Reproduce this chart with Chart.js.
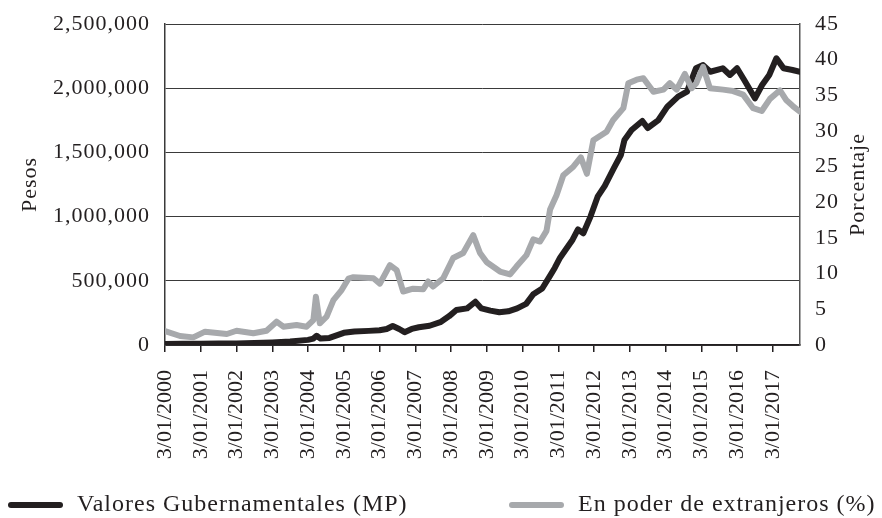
<!DOCTYPE html>
<html>
<head>
<meta charset="utf-8">
<script src="https://cdn.jsdelivr.net/npm/chart.js@4.4.1/dist/chart.umd.min.js"></script>
<style>
  html, body { margin: 0; padding: 0; background: #fff; }
  #wrap { width: 882px; height: 518px; }
</style>
</head>
<body>
<div id="wrap"><canvas id="chart" width="882" height="518"></canvas></div>
<script>
// fractional years
const govYears = [
  2000.0, 2000.5, 2001.0, 2001.5, 2002.0, 2002.5, 2003.0, 2003.5, 2004.0, 2004.15,
  2004.24, 2004.35, 2004.6, 2004.8, 2005.0, 2005.3, 2005.7, 2006.0, 2006.2, 2006.37,
  2006.55, 2006.7, 2006.9, 2007.1, 2007.4, 2007.7, 2007.95, 2008.15, 2008.45, 2008.68,
  2008.85, 2009.1, 2009.35, 2009.6, 2009.85, 2010.1, 2010.3, 2010.55, 2010.75, 2010.9,
  2011.05, 2011.2, 2011.4, 2011.55, 2011.7, 2011.9, 2012.1, 2012.3, 2012.55, 2012.75,
  2012.85, 2013.05, 2013.35, 2013.5, 2013.8, 2014.05, 2014.35, 2014.6, 2014.85, 2015.05,
  2015.25, 2015.6, 2015.8, 2016.0, 2016.2, 2016.5, 2016.7, 2016.9, 2017.1, 2017.3,
  2017.55, 2017.76
];
// Valores Gubernamentales (MP), pesos
const govValues = [
  8000, 10000, 10000, 12000, 12000, 15000, 20000, 28000, 40000, 50000,
  72000, 50000, 55000, 75000, 95000, 105000, 110000, 115000, 125000, 148000,
  125000, 100000, 125000, 138000, 150000, 178000, 225000, 272000, 285000, 337000,
  285000, 268000, 255000, 262000, 285000, 320000, 395000, 440000, 530000, 600000,
  680000, 740000, 820000, 900000, 870000, 1000000, 1155000, 1240000, 1376000, 1480000,
  1597000, 1674000, 1745000, 1690000, 1752000, 1856000, 1934000, 1973000, 2155000, 2180000,
  2128000, 2155000, 2103000, 2155000, 2064000, 1921000, 2025000, 2103000, 2233000, 2155000,
  2142000, 2128000
];

const forYears = [
  2000.0, 2000.42, 2000.79, 2001.12, 2001.73, 2002.0, 2002.47, 2002.84, 2003.12, 2003.31,
  2003.68, 2003.96, 2004.15, 2004.22, 2004.33, 2004.52, 2004.71, 2004.94, 2005.13, 2005.27,
  2005.83, 2006.01, 2006.29, 2006.48, 2006.66, 2006.94, 2007.22, 2007.36, 2007.5, 2007.78,
  2008.06, 2008.34, 2008.62, 2008.81, 2009.0, 2009.37, 2009.65, 2009.83, 2010.11, 2010.3,
  2010.49, 2010.67, 2010.77, 2010.95, 2011.14, 2011.42, 2011.63, 2011.8, 2011.98, 2012.35,
  2012.53, 2012.82, 2012.96, 2013.19, 2013.38, 2013.66, 2013.94, 2014.12, 2014.31, 2014.54,
  2014.73, 2014.86, 2015.05, 2015.24, 2015.61, 2015.89, 2016.17, 2016.45, 2016.69, 2016.92,
  2017.2, 2017.38, 2017.56, 2017.76
];
// En poder de extranjeros (%)
const forValues = [
  1.96, 1.26, 1.07, 1.87, 1.54, 2.0, 1.64, 2.0, 3.27, 2.57,
  2.8, 2.57, 3.5, 6.77, 3.04, 3.97, 6.3, 7.7, 9.3, 9.5,
  9.35, 8.6, 11.2, 10.5, 7.5, 7.9, 7.8, 8.9, 8.2, 9.35,
  12.2, 12.9, 15.4, 12.9, 11.6, 10.3, 9.9, 11.0, 12.6, 14.8,
  14.5, 16.0, 19.0, 21.0, 23.8, 25.0, 26.3, 24.0, 28.7, 29.9,
  31.5, 33.2, 36.7, 37.2, 37.4, 35.5, 35.8, 36.7, 35.8, 38.0,
  36.0, 36.7, 39.0, 36.0, 35.8, 35.6, 35.1, 33.2, 32.8, 34.5,
  35.7, 34.3, 33.5, 32.7
];

const tickYears = [2000, 2001, 2002, 2003, 2004, 2005, 2006, 2007, 2008,
  2009, 2010, 2011, 2012, 2013, 2014, 2015, 2016, 2017];
const xMin = 2000, xMax = 2017.76;

const FONT = "'Liberation Serif', 'Times New Roman', serif";
const INK = '#231f20';
const GRAY = '#a7a9ac';

function pairs(xs, ys) { return xs.map((x, i) => ({ x: x, y: ys[i] })); }

// the reference face is a bit wider than Times, so spread the letters a little
const spacing = {
  id: 'spacing',
  beforeDraw(chart) { chart.ctx.letterSpacing = '1px'; },
  afterDraw(chart) { chart.ctx.letterSpacing = '0px'; }
};

const sideTitles = {
  id: 'sideTitles',
  afterDraw(chart) {
    const ctx = chart.ctx, a = chart.chartArea;
    const mid = (a.top + a.bottom) / 2;
    ctx.save();
    ctx.letterSpacing = '1px';
    ctx.fillStyle = INK;
    ctx.font = '22px ' + FONT;
    ctx.textAlign = 'center';
    ctx.textBaseline = 'middle';
    [['Pesos', 30], ['Porcentaje', 858]].forEach(([t, x]) => {
      ctx.save();
      ctx.translate(x, mid);
      ctx.rotate(-Math.PI / 2);
      ctx.fillText(t, 0, 0);
      ctx.restore();
    });
    ctx.restore();
  }
};

const lineLegend = {
  id: 'lineLegend',
  afterDraw(chart) {
    const ctx = chart.ctx;
    const starts = [8, 509];
    const y = 505;
    ctx.save();
    ctx.letterSpacing = '1px';
    ctx.font = '24px ' + FONT;
    ctx.textBaseline = 'middle';
    chart.data.datasets.forEach((ds, i) => {
      const x0 = starts[i];
      ctx.strokeStyle = ds.borderColor;
      ctx.lineWidth = 6;
      ctx.lineCap = 'round';
      ctx.beginPath();
      ctx.moveTo(x0 + 3, y);
      ctx.lineTo(x0 + 52, y);
      ctx.stroke();
      ctx.fillStyle = INK;
      ctx.fillText(ds.label, x0 + 69, y);
    });
    ctx.restore();
  }
};

// pin the vertical axes: fixed width, no extra label overhang at the top
function fixedWidth(w) {
  return scale => {
    scale.width = w;
    scale.paddingTop = 0;
    scale.paddingBottom = 0;
  };
}

new Chart(document.getElementById('chart'), {
  type: 'line',
  data: {
    datasets: [
      {
        label: 'Valores Gubernamentales (MP)',
        data: pairs(govYears, govValues),
        yAxisID: 'y',
        borderColor: INK,
        borderWidth: 6,
        pointRadius: 0,
        tension: 0,
        borderJoinStyle: 'round',
        borderCapStyle: 'round',
        order: 1
      },
      {
        label: 'En poder de extranjeros (%)',
        data: pairs(forYears, forValues),
        yAxisID: 'y1',
        borderColor: GRAY,
        borderWidth: 6,
        pointRadius: 0,
        tension: 0,
        borderJoinStyle: 'round',
        borderCapStyle: 'round',
        order: 0
      }
    ]
  },
  options: {
    responsive: false,
    animation: false,
    events: [],
    layout: { padding: { top: 24, left: 0, right: 0, bottom: 0 } },
    plugins: {
      legend: { display: false },
      tooltip: { enabled: false }
    },
    scales: {
      x: {
        type: 'linear',
        min: xMin,
        max: xMax,
        afterBuildTicks(scale) {
          scale.ticks = tickYears.map(v => ({ value: v }));
        },
        afterFit(scale) {
          scale.height = 173;
          scale.paddingLeft = 0;
          scale.paddingRight = 0;
          // date labels already match the reference width: no extra spacing
          if (!scale._plainLabels) {
            const orig = scale.drawLabels;
            scale.drawLabels = function (area) {
              const c = this.ctx, keep = c.letterSpacing;
              c.letterSpacing = '0px';
              orig.call(this, area);
              c.letterSpacing = keep;
            };
            scale._plainLabels = true;
          }
        },
        grid: {
          drawOnChartArea: false,
          drawTicks: true,
          tickLength: 7,
          color: INK,
          lineWidth: 1.5
        },
        border: { display: true, color: INK, width: 1.5 },
        ticks: {
          autoSkip: false,
          minRotation: 90,
          maxRotation: 90,
          padding: 18,
          color: INK,
          font: { family: FONT, size: 22 },
          callback: v => '3/01/' + v
        }
      },
      y: {
        position: 'left',
        min: 0,
        max: 2500000,
        afterFit: fixedWidth(165),
        grid: { color: '#3a3a3a', lineWidth: 1, drawTicks: false },
        border: { display: true, color: '#3a3a3a', width: 1.5 },
        ticks: {
          stepSize: 500000,
          padding: 15,
          color: INK,
          font: { family: FONT, size: 22 },
          callback: v => v.toLocaleString('en-US')
        }
      },
      y1: {
        position: 'right',
        min: 0,
        max: 45,
        afterFit: fixedWidth(82),
        grid: { drawOnChartArea: false, drawTicks: false },
        border: { display: true, color: '#555', width: 1.5 },
        ticks: {
          stepSize: 5,
          padding: 15,
          color: INK,
          font: { family: FONT, size: 22 }
        }
      }
    }
  },
  plugins: [spacing, sideTitles, lineLegend]
});
</script>
</body>
</html>
